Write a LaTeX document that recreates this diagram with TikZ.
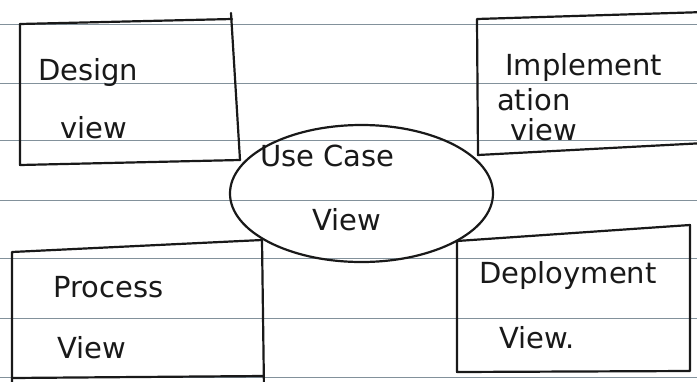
\documentclass[tikz,border=0pt]{standalone}
\usepackage{fontspec}
\setmainfont{DejaVu Sans}
\usetikzlibrary{shapes.geometric}
\definecolor{ruling}{RGB}{130,145,155}
\begin{document}
\begin{tikzpicture}[x=1pt,y=-1pt,
  ink/.style={draw=black!90, line width=2.2pt, line cap=round, line join=round},
  paper/.style={draw=ruling, line width=1pt},
  hand/.style={anchor=base west, inner sep=0pt, font=\fontsize{29}{31}\selectfont, text=black!90}]
\useasboundingbox (0,0) rectangle (697,381);
\fill[white] (0,0) rectangle (697,381);
% ruled paper lines
\foreach \yy in {24,83,140,200,258,318,377}
  \draw[paper] (0,\yy) -- (697,\yy);
% Design view box
\coordinate (d1) at (20,24); \coordinate (d2) at (232,19);
\coordinate (d3) at (240,160); \coordinate (d4) at (20,165);
\coordinate (dt) at (231,13);
\draw[ink] (d1) -- (d2);
\draw[ink] (dt) -- (d3);
\draw[ink] (d1) -- (d4) -- (d3);
% Implementation view box
\coordinate (i1) at (477,19); \coordinate (i2) at (705,12);
\coordinate (i3) at (705,143); \coordinate (i4) at (478,155);
\draw[ink] (i2) -- (i1) -- (i4) -- (i3);
% Process view box
\coordinate (p1) at (12,252); \coordinate (p2) at (262,240);
\coordinate (p3) at (264,376); \coordinate (p4) at (12,378);
\coordinate (p5) at (12,390); \coordinate (p6) at (264,390);
\draw[ink] (p5) -- (p1) -- (p2) -- (p6);
\draw[ink] (p4) -- (p3);
% Deployment view box
\coordinate (q1) at (457,241); \coordinate (q2) at (690,225);
\coordinate (q3) at (690,371); \coordinate (q4) at (457,372);
\draw[ink] (q1) -- (q2) -- (q3) -- (q4) -- cycle;
% Use case ellipse
\node[ink, ellipse, minimum width=263pt, minimum height=137pt, inner sep=0pt] (uc) at (361.5,193.5) {};
% texts
\node[hand] (t1) at (38,80) {Design};
\node[hand] (t2) at (60,138) {view};
\node[hand] (t3) at (505,75) {Implement};
\node[hand] (t4) at (497,110) {ation};
\node[hand] (t5) at (510,140) {view};
\node[hand] (t6) at (260,166) {Use Case};
\node[hand] (t7) at (312,230) {View};
\node[hand] (t8) at (53,297) {Process};
\node[hand] (t9) at (57,358) {View};
\node[hand] (t10) at (479,283) {Deployment};
\node[hand] (t11) at (499,348) {View.};
\end{tikzpicture}
\end{document}
